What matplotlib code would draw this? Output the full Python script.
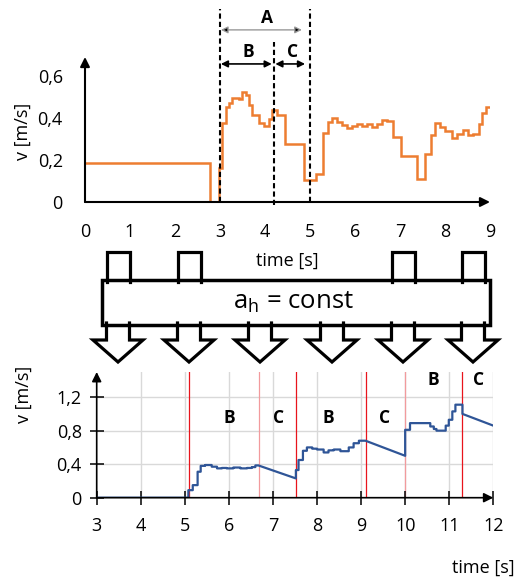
import matplotlib
matplotlib.use('Agg')
import matplotlib.pyplot as plt
from matplotlib.patches import Rectangle

plt.rcParams['font.family'] = ['Open Sans', 'DejaVu Sans']
plt.rcParams['mathtext.fontset'] = 'custom'
plt.rcParams['mathtext.rm'] = 'Open Sans'
plt.rcParams['font.size'] = 13

W, H = 518, 581


# Input data
# ----------

# top chart: measured speed as steps (edges, values)
top_edges = [0, 2.78, 2.98, 3.04, 3.13, 3.20, 3.27, 3.42, 3.49, 3.58, 3.65,
             3.72, 3.87, 3.98, 4.09, 4.16, 4.27, 4.44, 4.87, 5.13, 5.28,
             5.39, 5.48, 5.59, 5.70, 5.82, 5.93, 6.04, 6.15, 6.26, 6.37,
             6.48, 6.59, 6.70, 6.84, 7.02, 7.37, 7.56, 7.68, 7.78, 7.89,
             8.00, 8.15, 8.27, 8.39, 8.52, 8.63, 8.76, 8.83, 8.90, 9.00]
top_vals = [0.184, 0.0, 0.163, 0.378, 0.454, 0.47, 0.494, 0.49, 0.525, 0.51,
            0.46, 0.414, 0.378, 0.362, 0.394, 0.438, 0.415, 0.275, 0.105,
            0.135, 0.33, 0.38, 0.40, 0.38, 0.365, 0.35, 0.36, 0.37, 0.36,
            0.37, 0.355, 0.37, 0.39, 0.385, 0.31, 0.22, 0.11, 0.23, 0.32,
            0.375, 0.355, 0.34, 0.305, 0.325, 0.345, 0.32, 0.325, 0.37,
            0.425, 0.45]
top_bounds = [3.0, 4.2, 5.0]
top_xticks = list(range(10))
top_yticks = [0, 0.2, 0.4, 0.6]
top_ylabels = ['0', '0,2', '0,4', '0,6']

# bottom chart: computed speed (vertices)
bot_t = [3, 5.08, 5.08, 5.18, 5.18, 5.29, 5.29, 5.36, 5.36, 5.46, 5.46,
         5.61, 5.61, 5.73, 5.73, 5.84, 5.84, 5.95, 5.95, 6.10, 6.10, 6.26,
         6.26, 6.41, 6.41, 6.52, 6.52, 6.60, 6.60, 6.67,
         7.52, 7.52, 7.58, 7.58, 7.68, 7.68, 7.77, 7.77, 7.89, 7.89, 8.00,
         8.00, 8.15, 8.15, 8.26, 8.26, 8.38, 8.38, 8.53, 8.53, 8.72, 8.72,
         8.83, 8.83, 8.95, 8.95, 9.10,
         10.0, 10.0, 10.11, 10.11, 10.57, 10.57, 10.65, 10.65, 10.71, 10.71,
         10.92, 10.92, 10.99, 10.99, 11.07, 11.07, 11.14, 11.14, 11.30,
         11.30, 12.0]
bot_v = [0, 0, 0.09, 0.09, 0.15, 0.15, 0.31, 0.31, 0.38, 0.38, 0.39,
         0.39, 0.37, 0.37, 0.35, 0.35, 0.355, 0.355, 0.35, 0.35, 0.36, 0.36,
         0.35, 0.35, 0.355, 0.355, 0.365, 0.365, 0.385, 0.385,
         0.23, 0.33, 0.33, 0.45, 0.45, 0.56, 0.56, 0.60, 0.60, 0.585, 0.585,
         0.575, 0.575, 0.54, 0.54, 0.565, 0.565, 0.575, 0.575, 0.555, 0.555,
         0.60, 0.60, 0.65, 0.65, 0.68, 0.68,
         0.50, 0.81, 0.81, 0.89, 0.89, 0.85, 0.85, 0.82, 0.82, 0.80,
         0.80, 0.86, 0.86, 0.93, 0.93, 1.03, 1.03, 1.11, 1.11,
         1.00, 0.86]
red_lines = [5.1, 7.52, 9.1, 11.3]
pink_lines = [6.68, 10.0]
phase_names = ['B', 'C', 'B', 'C', 'B', 'C']
phase_t = [6.0, 7.13, 8.25, 9.54, 10.64, 11.67]
phase_v = [0.95, 0.95, 0.95, 0.95, 1.40, 1.40]
bot_xticks = list(range(3, 13))
bot_yticks = [0, 0.4, 0.8, 1.2]
bot_ylabels = ['0', '0,4', '0,8', '1,2']


def box(x0, y0, x1, y1):
    """Pixel box (top-left origin) to figure fraction."""
    return [x0/W, 1-y1/H, (x1-x0)/W, (y1-y0)/H]


fig = plt.figure(figsize=(W/100, H/100), dpi=100)

# overlay axes in pixel units for the diagram
ax0 = fig.add_axes([0, 0, 1, 1])
ax0.set_xlim(0, W)
ax0.set_ylim(H, 0)
ax0.axis('off')

arrow_kw = dict(arrowstyle='-|>', color='k', lw=1.5, mutation_scale=14,
                shrinkA=0, shrinkB=0)


# Top chart
# ---------

ax1 = fig.add_axes(box(85, 57, 490, 202))
ax1.stairs(top_vals, top_edges, baseline=None, color='#ED7D31', lw=1.8)
ax1.set_xlim(0, 9)
ax1.set_ylim(0, 0.69)
for s in ax1.spines.values():
    s.set_visible(False)
ax1.set_xticks(top_xticks)
ax1.set_yticks(top_yticks, top_ylabels)
ax1.tick_params(length=0, labelsize=13)
ax1.tick_params(axis='x', pad=15)
ax1.tick_params(axis='y', pad=16)
ax1.annotate('', xy=(1, 0), xytext=(0, 0), xycoords='axes fraction',
             arrowprops=arrow_kw)
ax1.annotate('', xy=(0, 1), xytext=(0, 0), xycoords='axes fraction',
             arrowprops=arrow_kw)

# phase boundaries
tops = [0.92, 0.76, 0.92]
bots = [0.0, -0.015, 0.0]
for t, y1, y0 in zip(top_bounds, tops, bots):
    ax1.plot([t, t], [y0, y1], color='k', lw=1.5, ls=(0, (2.5, 1.5)),
             clip_on=False)

# dimension arrows
dim = dict(arrowstyle='<|-|>', mutation_scale=10, shrinkA=0, shrinkB=0)
ax1.annotate('', xy=(3.02, 0.819), xytext=(4.82, 0.819), annotation_clip=False,
             arrowprops=dict(dim, lw=1.0, ec='0.6', fc='k'))
ax1.annotate('', xy=(3.02, 0.657), xytext=(4.15, 0.657), annotation_clip=False,
             arrowprops=dict(dim, lw=1.2, color='k'))
ax1.annotate('', xy=(4.23, 0.657), xytext=(4.89, 0.657), annotation_clip=False,
             arrowprops=dict(dim, lw=1.2, color='k'))
kw = dict(ha='center', va='center', fontweight='bold', fontsize=12.5,
          clip_on=False)
ax1.text(4.04, 0.876, 'A', **kw)
ax1.text(3.62, 0.714, 'B', **kw)
ax1.text(4.62, 0.714, 'C', **kw)

fig.text(23/W, 1-131/H, 'v [m/s]', rotation=90, ha='center', va='center')
fig.text(287/W, 1-261/H, 'time [s]', ha='center', va='center')


# Diagram
# -------

in_arrows = [118, 189, 403, 473]
out_arrows = [118, 189, 260, 332, 403, 473]
hw, aw = 11.5, 25
for c in in_arrows:
    ax0.plot([c-hw, c-hw, c+hw, c+hw], [282, 252, 252, 282], color='k',
             lw=2.3, solid_joinstyle='miter')
for c in out_arrows:
    ax0.plot([c-hw, c-hw, c-aw, c, c+aw, c+hw, c+hw],
             [323, 340, 340, 362, 340, 340, 323], color='k', lw=2.3,
             solid_joinstyle='miter')
ax0.add_patch(Rectangle((101.7, 280), 388.3, 45, fc='w', ec='k', lw=2.5))
ax0.text(293, 302, r'a$_{\mathrm{h}}$ = const', ha='center', va='center',
         fontsize=18.5)


# Bottom chart
# ------------

ax2 = fig.add_axes(box(96.7, 372, 493.3, 497.7))
ax2.set_xlim(3, 12)
ax2.set_ylim(0, 1.5)
for s in ax2.spines.values():
    s.set_visible(False)
for t in bot_xticks[1:]:
    ax2.axvline(t, color='#d9d9d9', lw=1, zorder=0)
for v in bot_yticks[1:]:
    ax2.axhline(v, color='#d9d9d9', lw=1, zorder=0)
for t in red_lines:
    ax2.axvline(t, color='#e8141c', lw=0.9, zorder=1)
for t in pink_lines:
    ax2.axvline(t, color='#f29a9d', lw=0.9, zorder=1)
ax2.plot(bot_t, bot_v, color='#2F5597', lw=1.6, zorder=3)
for name, t, v in zip(phase_names, phase_t, phase_v):
    ax2.text(t, v, name, ha='center', va='center', fontweight='bold',
             fontsize=12.5)
ax2.set_xticks(bot_xticks)
ax2.set_yticks(bot_yticks, bot_ylabels)
ax2.tick_params(direction='inout', length=9.4, width=1.1, labelsize=13)
ax2.tick_params(axis='x', pad=9)
ax2.tick_params(axis='y', pad=6)
arrow_kw2 = dict(arrow_kw, lw=1.2)
ax2.annotate('', xy=(1, 0), xytext=(0, 0), xycoords='axes fraction',
             arrowprops=arrow_kw2)
ax2.annotate('', xy=(0, 1), xytext=(0, 0), xycoords='axes fraction',
             arrowprops=arrow_kw2)

fig.text(24/W, 1-394/H, 'v [m/s]', rotation=90, ha='center', va='center')
fig.text(515/W, 1-568/H, 'time [s]', ha='right', va='center')

fig.savefig('out.png', dpi=100)
